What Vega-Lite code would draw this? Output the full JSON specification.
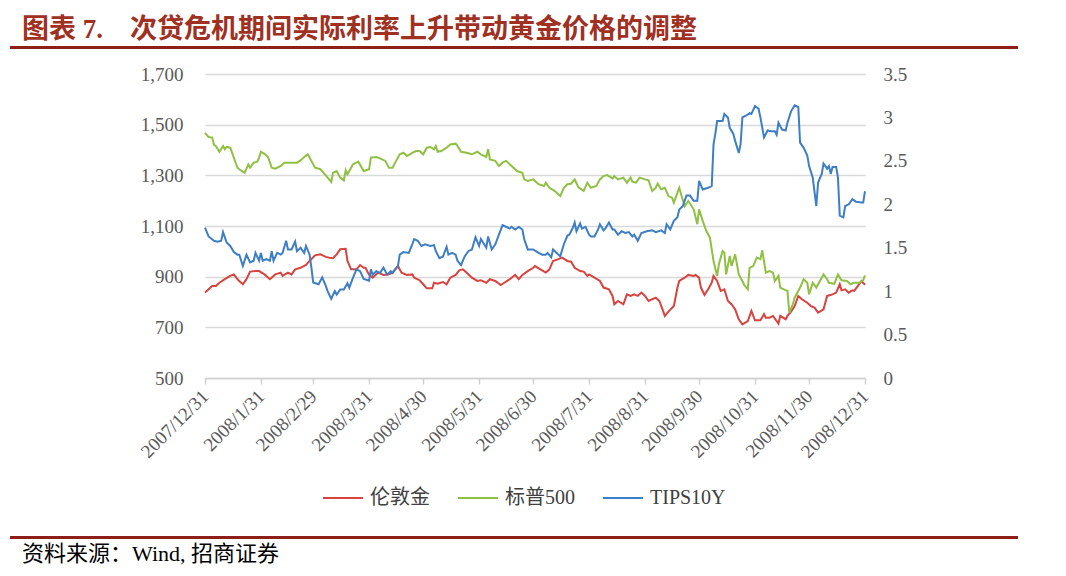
{
  "$schema": "https://vega.github.io/schema/vega-lite/v6.json",
  "background": "white",
  "padding": {"left": 10, "top": 16, "right": 10, "bottom": 8},
  "autosize": {"type": "pad"},
  "config": {
    "view": {"stroke": null},
    "axis": {"labelFont": "Liberation Serif", "labelFontSize": 19, "labelColor": "#595959"},
    "legend": {"labelFont": "Liberation Serif, Noto Sans CJK SC", "labelFontSize": 20, "labelColor": "#404040"}
  },
  "datasets": {
    "main": [
      {"d":"2007-12-31","s":"伦敦金","v":837},{"d":"2008-01-02","s":"伦敦金","v":850},{"d":"2008-01-04","s":"伦敦金","v":863},{"d":"2008-01-06","s":"伦敦金","v":863},{"d":"2008-01-08","s":"伦敦金","v":876},{"d":"2008-01-11","s":"伦敦金","v":890},{"d":"2008-01-14","s":"伦敦金","v":903},{"d":"2008-01-16","s":"伦敦金","v":909},{"d":"2008-01-18","s":"伦敦金","v":890},{"d":"2008-01-19","s":"伦敦金","v":883},{"d":"2008-01-21","s":"伦敦金","v":870},{"d":"2008-01-23","s":"伦敦金","v":890},{"d":"2008-01-25","s":"伦敦金","v":920},{"d":"2008-01-28","s":"伦敦金","v":922},{"d":"2008-01-30","s":"伦敦金","v":922},{"d":"2008-02-02","s":"伦敦金","v":909},{"d":"2008-02-05","s":"伦敦金","v":890},{"d":"2008-02-08","s":"伦敦金","v":909},{"d":"2008-02-11","s":"伦敦金","v":916},{"d":"2008-02-12","s":"伦敦金","v":903},{"d":"2008-02-15","s":"伦敦金","v":916},{"d":"2008-02-17","s":"伦敦金","v":909},{"d":"2008-02-19","s":"伦敦金","v":929},{"d":"2008-02-22","s":"伦敦金","v":935},{"d":"2008-02-25","s":"伦敦金","v":946},{"d":"2008-02-27","s":"伦敦金","v":962},{"d":"2008-03-01","s":"伦敦金","v":984},{"d":"2008-03-04","s":"伦敦金","v":988},{"d":"2008-03-07","s":"伦敦金","v":978},{"d":"2008-03-09","s":"伦敦金","v":975},{"d":"2008-03-11","s":"伦敦金","v":973},{"d":"2008-03-13","s":"伦敦金","v":988},{"d":"2008-03-15","s":"伦敦金","v":1008},{"d":"2008-03-18","s":"伦敦金","v":1010},{"d":"2008-03-19","s":"伦敦金","v":962},{"d":"2008-03-21","s":"伦敦金","v":929},{"d":"2008-03-24","s":"伦敦金","v":929},{"d":"2008-03-26","s":"伦敦金","v":946},{"d":"2008-03-28","s":"伦敦金","v":935},{"d":"2008-03-29","s":"伦敦金","v":935},{"d":"2008-03-31","s":"伦敦金","v":907},{"d":"2008-04-02","s":"伦敦金","v":896},{"d":"2008-04-05","s":"伦敦金","v":916},{"d":"2008-04-08","s":"伦敦金","v":907},{"d":"2008-04-11","s":"伦敦金","v":909},{"d":"2008-04-13","s":"伦敦金","v":916},{"d":"2008-04-16","s":"伦敦金","v":942},{"d":"2008-04-18","s":"伦敦金","v":916},{"d":"2008-04-21","s":"伦敦金","v":907},{"d":"2008-04-24","s":"伦敦金","v":909},{"d":"2008-04-25","s":"伦敦金","v":896},{"d":"2008-04-28","s":"伦敦金","v":886},{"d":"2008-04-30","s":"伦敦金","v":870},{"d":"2008-05-02","s":"伦敦金","v":854},{"d":"2008-05-05","s":"伦敦金","v":854},{"d":"2008-05-06","s":"伦敦金","v":876},{"d":"2008-05-08","s":"伦敦金","v":872},{"d":"2008-05-11","s":"伦敦金","v":879},{"d":"2008-05-13","s":"伦敦金","v":870},{"d":"2008-05-15","s":"伦敦金","v":896},{"d":"2008-05-18","s":"伦敦金","v":907},{"d":"2008-05-20","s":"伦敦金","v":925},{"d":"2008-05-22","s":"伦敦金","v":929},{"d":"2008-05-24","s":"伦敦金","v":916},{"d":"2008-05-27","s":"伦敦金","v":896},{"d":"2008-05-30","s":"伦敦金","v":883},{"d":"2008-06-01","s":"伦敦金","v":886},{"d":"2008-06-04","s":"伦敦金","v":876},{"d":"2008-06-06","s":"伦敦金","v":890},{"d":"2008-06-09","s":"伦敦金","v":883},{"d":"2008-06-12","s":"伦敦金","v":867},{"d":"2008-06-14","s":"伦敦金","v":876},{"d":"2008-06-17","s":"伦敦金","v":890},{"d":"2008-06-20","s":"伦敦金","v":907},{"d":"2008-06-22","s":"伦敦金","v":890},{"d":"2008-06-24","s":"伦敦金","v":907},{"d":"2008-06-27","s":"伦敦金","v":922},{"d":"2008-06-30","s":"伦敦金","v":935},{"d":"2008-07-01","s":"伦敦金","v":942},{"d":"2008-07-04","s":"伦敦金","v":929},{"d":"2008-07-07","s":"伦敦金","v":916},{"d":"2008-07-09","s":"伦敦金","v":929},{"d":"2008-07-11","s":"伦敦金","v":962},{"d":"2008-07-14","s":"伦敦金","v":969},{"d":"2008-07-16","s":"伦敦金","v":975},{"d":"2008-07-19","s":"伦敦金","v":962},{"d":"2008-07-21","s":"伦敦金","v":959},{"d":"2008-07-23","s":"伦敦金","v":935},{"d":"2008-07-26","s":"伦敦金","v":922},{"d":"2008-07-28","s":"伦敦金","v":920},{"d":"2008-07-30","s":"伦敦金","v":903},{"d":"2008-07-31","s":"伦敦金","v":909},{"d":"2008-08-03","s":"伦敦金","v":896},{"d":"2008-08-06","s":"伦敦金","v":883},{"d":"2008-08-08","s":"伦敦金","v":857},{"d":"2008-08-11","s":"伦敦金","v":850},{"d":"2008-08-13","s":"伦敦金","v":824},{"d":"2008-08-14","s":"伦敦金","v":791},{"d":"2008-08-16","s":"伦敦金","v":804},{"d":"2008-08-19","s":"伦敦金","v":791},{"d":"2008-08-21","s":"伦敦金","v":830},{"d":"2008-08-23","s":"伦敦金","v":824},{"d":"2008-08-25","s":"伦敦金","v":830},{"d":"2008-08-27","s":"伦敦金","v":824},{"d":"2008-08-29","s":"伦敦金","v":837},{"d":"2008-08-31","s":"伦敦金","v":824},{"d":"2008-09-02","s":"伦敦金","v":804},{"d":"2008-09-04","s":"伦敦金","v":811},{"d":"2008-09-06","s":"伦敦金","v":817},{"d":"2008-09-08","s":"伦敦金","v":804},{"d":"2008-09-10","s":"伦敦金","v":765},{"d":"2008-09-11","s":"伦敦金","v":745},{"d":"2008-09-13","s":"伦敦金","v":762},{"d":"2008-09-16","s":"伦敦金","v":784},{"d":"2008-09-18","s":"伦敦金","v":857},{"d":"2008-09-19","s":"伦敦金","v":883},{"d":"2008-09-22","s":"伦敦金","v":896},{"d":"2008-09-24","s":"伦敦金","v":907},{"d":"2008-09-27","s":"伦敦金","v":903},{"d":"2008-09-28","s":"伦敦金","v":907},{"d":"2008-09-30","s":"伦敦金","v":896},{"d":"2008-10-01","s":"伦敦金","v":857},{"d":"2008-10-03","s":"伦敦金","v":828},{"d":"2008-10-05","s":"伦敦金","v":850},{"d":"2008-10-07","s":"伦敦金","v":876},{"d":"2008-10-08","s":"伦敦金","v":903},{"d":"2008-10-10","s":"伦敦金","v":883},{"d":"2008-10-12","s":"伦敦金","v":844},{"d":"2008-10-14","s":"伦敦金","v":850},{"d":"2008-10-16","s":"伦敦金","v":804},{"d":"2008-10-18","s":"伦敦金","v":791},{"d":"2008-10-20","s":"伦敦金","v":771},{"d":"2008-10-22","s":"伦敦金","v":732},{"d":"2008-10-24","s":"伦敦金","v":712},{"d":"2008-10-27","s":"伦敦金","v":725},{"d":"2008-10-29","s":"伦敦金","v":765},{"d":"2008-10-31","s":"伦敦金","v":728},{"d":"2008-11-03","s":"伦敦金","v":728},{"d":"2008-11-05","s":"伦敦金","v":752},{"d":"2008-11-06","s":"伦敦金","v":738},{"d":"2008-11-08","s":"伦敦金","v":738},{"d":"2008-11-10","s":"伦敦金","v":745},{"d":"2008-11-13","s":"伦敦金","v":715},{"d":"2008-11-14","s":"伦敦金","v":745},{"d":"2008-11-17","s":"伦敦金","v":732},{"d":"2008-11-18","s":"伦敦金","v":745},{"d":"2008-11-20","s":"伦敦金","v":762},{"d":"2008-11-22","s":"伦敦金","v":784},{"d":"2008-11-24","s":"伦敦金","v":824},{"d":"2008-11-26","s":"伦敦金","v":811},{"d":"2008-11-29","s":"伦敦金","v":797},{"d":"2008-12-01","s":"伦敦金","v":784},{"d":"2008-12-03","s":"伦敦金","v":778},{"d":"2008-12-05","s":"伦敦金","v":758},{"d":"2008-12-08","s":"伦敦金","v":771},{"d":"2008-12-10","s":"伦敦金","v":824},{"d":"2008-12-13","s":"伦敦金","v":830},{"d":"2008-12-15","s":"伦敦金","v":837},{"d":"2008-12-17","s":"伦敦金","v":870},{"d":"2008-12-18","s":"伦敦金","v":846},{"d":"2008-12-20","s":"伦敦金","v":850},{"d":"2008-12-22","s":"伦敦金","v":837},{"d":"2008-12-24","s":"伦敦金","v":846},{"d":"2008-12-25","s":"伦敦金","v":844},{"d":"2008-12-27","s":"伦敦金","v":863},{"d":"2008-12-29","s":"伦敦金","v":883},{"d":"2008-12-31","s":"伦敦金","v":868},
      {"d":"2007-12-31","s":"标普500","v":1468},{"d":"2008-01-02","s":"标普500","v":1451},{"d":"2008-01-04","s":"标普500","v":1449},{"d":"2008-01-05","s":"标普500","v":1420},{"d":"2008-01-06","s":"标普500","v":1416},{"d":"2008-01-08","s":"标普500","v":1393},{"d":"2008-01-10","s":"标普500","v":1416},{"d":"2008-01-11","s":"标普500","v":1403},{"d":"2008-01-12","s":"标普500","v":1412},{"d":"2008-01-14","s":"标普500","v":1409},{"d":"2008-01-18","s":"标普500","v":1330},{"d":"2008-01-19","s":"标普500","v":1324},{"d":"2008-01-22","s":"标普500","v":1310},{"d":"2008-01-24","s":"标普500","v":1343},{"d":"2008-01-25","s":"标普500","v":1330},{"d":"2008-01-27","s":"标普500","v":1350},{"d":"2008-01-29","s":"标普500","v":1354},{"d":"2008-01-30","s":"标普500","v":1370},{"d":"2008-01-31","s":"标普500","v":1393},{"d":"2008-02-02","s":"标普500","v":1385},{"d":"2008-02-04","s":"标普500","v":1372},{"d":"2008-02-06","s":"标普500","v":1330},{"d":"2008-02-08","s":"标普500","v":1326},{"d":"2008-02-11","s":"标普500","v":1337},{"d":"2008-02-13","s":"标普500","v":1350},{"d":"2008-02-16","s":"标普500","v":1350},{"d":"2008-02-20","s":"标普500","v":1350},{"d":"2008-02-22","s":"标普500","v":1359},{"d":"2008-02-24","s":"标普500","v":1372},{"d":"2008-02-26","s":"标普500","v":1383},{"d":"2008-02-28","s":"标普500","v":1357},{"d":"2008-03-01","s":"标普500","v":1330},{"d":"2008-03-04","s":"标普500","v":1324},{"d":"2008-03-07","s":"标普500","v":1300},{"d":"2008-03-10","s":"标普500","v":1274},{"d":"2008-03-11","s":"标普500","v":1310},{"d":"2008-03-13","s":"标普500","v":1317},{"d":"2008-03-15","s":"标普500","v":1291},{"d":"2008-03-17","s":"标普500","v":1280},{"d":"2008-03-18","s":"标普500","v":1320},{"d":"2008-03-19","s":"标普500","v":1304},{"d":"2008-03-22","s":"标普500","v":1343},{"d":"2008-03-25","s":"标普500","v":1354},{"d":"2008-03-28","s":"标普500","v":1317},{"d":"2008-03-31","s":"标普500","v":1324},{"d":"2008-04-01","s":"标普500","v":1370},{"d":"2008-04-04","s":"标普500","v":1372},{"d":"2008-04-06","s":"标普500","v":1367},{"d":"2008-04-09","s":"标普500","v":1357},{"d":"2008-04-11","s":"标普500","v":1330},{"d":"2008-04-13","s":"标普500","v":1330},{"d":"2008-04-15","s":"标普500","v":1357},{"d":"2008-04-17","s":"标普500","v":1383},{"d":"2008-04-19","s":"标普500","v":1389},{"d":"2008-04-21","s":"标普500","v":1376},{"d":"2008-04-24","s":"标普500","v":1389},{"d":"2008-04-26","s":"标普500","v":1396},{"d":"2008-04-28","s":"标普500","v":1396},{"d":"2008-04-30","s":"标普500","v":1383},{"d":"2008-05-02","s":"标普500","v":1409},{"d":"2008-05-04","s":"标普500","v":1412},{"d":"2008-05-06","s":"标普500","v":1403},{"d":"2008-05-07","s":"标普500","v":1416},{"d":"2008-05-08","s":"标普500","v":1393},{"d":"2008-05-10","s":"标普500","v":1396},{"d":"2008-05-13","s":"标普500","v":1409},{"d":"2008-05-15","s":"标普500","v":1422},{"d":"2008-05-18","s":"标普500","v":1425},{"d":"2008-05-19","s":"标普500","v":1416},{"d":"2008-05-21","s":"标普500","v":1393},{"d":"2008-05-24","s":"标普500","v":1389},{"d":"2008-05-27","s":"标普500","v":1383},{"d":"2008-05-30","s":"标普500","v":1393},{"d":"2008-06-01","s":"标普500","v":1383},{"d":"2008-06-04","s":"标普500","v":1372},{"d":"2008-06-05","s":"标普500","v":1403},{"d":"2008-06-06","s":"标普500","v":1363},{"d":"2008-06-09","s":"标普500","v":1357},{"d":"2008-06-11","s":"标普500","v":1337},{"d":"2008-06-13","s":"标普500","v":1350},{"d":"2008-06-15","s":"标普500","v":1357},{"d":"2008-06-18","s":"标普500","v":1337},{"d":"2008-06-21","s":"标普500","v":1317},{"d":"2008-06-24","s":"标普500","v":1310},{"d":"2008-06-25","s":"标普500","v":1284},{"d":"2008-06-27","s":"标普500","v":1278},{"d":"2008-06-30","s":"标普500","v":1284},{"d":"2008-07-03","s":"标普500","v":1265},{"d":"2008-07-06","s":"标普500","v":1258},{"d":"2008-07-07","s":"标普500","v":1271},{"d":"2008-07-09","s":"标普500","v":1251},{"d":"2008-07-12","s":"标普500","v":1238},{"d":"2008-07-15","s":"标普500","v":1218},{"d":"2008-07-17","s":"标普500","v":1251},{"d":"2008-07-19","s":"标普500","v":1265},{"d":"2008-07-21","s":"标普500","v":1267},{"d":"2008-07-23","s":"标普500","v":1284},{"d":"2008-07-25","s":"标普500","v":1254},{"d":"2008-07-28","s":"标普500","v":1238},{"d":"2008-07-30","s":"标普500","v":1271},{"d":"2008-08-01","s":"标普500","v":1251},{"d":"2008-08-04","s":"标普500","v":1258},{"d":"2008-08-06","s":"标普500","v":1284},{"d":"2008-08-08","s":"标普500","v":1297},{"d":"2008-08-10","s":"标普500","v":1301},{"d":"2008-08-13","s":"标普500","v":1288},{"d":"2008-08-14","s":"标普500","v":1297},{"d":"2008-08-16","s":"标普500","v":1284},{"d":"2008-08-19","s":"标普500","v":1291},{"d":"2008-08-21","s":"标普500","v":1271},{"d":"2008-08-23","s":"标普500","v":1291},{"d":"2008-08-24","s":"标普500","v":1275},{"d":"2008-08-26","s":"标普500","v":1271},{"d":"2008-08-28","s":"标普500","v":1291},{"d":"2008-08-31","s":"标普500","v":1284},{"d":"2008-09-02","s":"标普500","v":1280},{"d":"2008-09-04","s":"标普500","v":1238},{"d":"2008-09-06","s":"标普500","v":1251},{"d":"2008-09-07","s":"标普500","v":1267},{"d":"2008-09-09","s":"标普500","v":1245},{"d":"2008-09-11","s":"标普500","v":1251},{"d":"2008-09-13","s":"标普500","v":1218},{"d":"2008-09-15","s":"标普500","v":1212},{"d":"2008-09-16","s":"标普500","v":1192},{"d":"2008-09-18","s":"标普500","v":1232},{"d":"2008-09-19","s":"标普500","v":1251},{"d":"2008-09-20","s":"标普500","v":1225},{"d":"2008-09-22","s":"标普500","v":1179},{"d":"2008-09-24","s":"标普500","v":1199},{"d":"2008-09-27","s":"标普500","v":1166},{"d":"2008-09-29","s":"标普500","v":1107},{"d":"2008-09-30","s":"标普500","v":1166},{"d":"2008-10-02","s":"标普500","v":1120},{"d":"2008-10-04","s":"标普500","v":1080},{"d":"2008-10-06","s":"标普500","v":1054},{"d":"2008-10-08","s":"标普500","v":962},{"d":"2008-10-10","s":"标普500","v":903},{"d":"2008-10-11","s":"标普500","v":949},{"d":"2008-10-13","s":"标普500","v":1001},{"d":"2008-10-14","s":"标普500","v":995},{"d":"2008-10-15","s":"标普500","v":909},{"d":"2008-10-17","s":"标普500","v":982},{"d":"2008-10-18","s":"标普500","v":942},{"d":"2008-10-20","s":"标普500","v":988},{"d":"2008-10-22","s":"标普500","v":909},{"d":"2008-10-24","s":"标普500","v":883},{"d":"2008-10-25","s":"标普500","v":867},{"d":"2008-10-27","s":"标普500","v":850},{"d":"2008-10-28","s":"标普500","v":935},{"d":"2008-10-30","s":"标普500","v":942},{"d":"2008-11-01","s":"标普500","v":975},{"d":"2008-11-03","s":"标普500","v":969},{"d":"2008-11-04","s":"标普500","v":1004},{"d":"2008-11-06","s":"标普500","v":916},{"d":"2008-11-08","s":"标普500","v":922},{"d":"2008-11-10","s":"标普500","v":916},{"d":"2008-11-11","s":"标普500","v":883},{"d":"2008-11-13","s":"标普500","v":903},{"d":"2008-11-14","s":"标普500","v":857},{"d":"2008-11-16","s":"标普500","v":850},{"d":"2008-11-18","s":"标普500","v":844},{"d":"2008-11-19","s":"标普500","v":758},{"d":"2008-11-21","s":"标普500","v":791},{"d":"2008-11-22","s":"标普500","v":817},{"d":"2008-11-25","s":"标普500","v":857},{"d":"2008-11-27","s":"标普500","v":890},{"d":"2008-11-29","s":"标普500","v":876},{"d":"2008-11-30","s":"标普500","v":830},{"d":"2008-12-02","s":"标普500","v":876},{"d":"2008-12-04","s":"标普500","v":857},{"d":"2008-12-06","s":"标普500","v":883},{"d":"2008-12-08","s":"标普500","v":909},{"d":"2008-12-10","s":"标普500","v":890},{"d":"2008-12-11","s":"标普500","v":876},{"d":"2008-12-14","s":"标普500","v":872},{"d":"2008-12-16","s":"标普500","v":909},{"d":"2008-12-18","s":"标普500","v":886},{"d":"2008-12-21","s":"标普500","v":883},{"d":"2008-12-23","s":"标普500","v":870},{"d":"2008-12-25","s":"标普500","v":876},{"d":"2008-12-28","s":"标普500","v":876},{"d":"2008-12-30","s":"标普500","v":886},{"d":"2008-12-31","s":"标普500","v":905},
      {"d":"2007-12-31","s":"TIPS10Y","v":1.73},{"d":"2008-01-02","s":"TIPS10Y","v":1.63},{"d":"2008-01-05","s":"TIPS10Y","v":1.58},{"d":"2008-01-07","s":"TIPS10Y","v":1.57},{"d":"2008-01-09","s":"TIPS10Y","v":1.58},{"d":"2008-01-10","s":"TIPS10Y","v":1.68},{"d":"2008-01-12","s":"TIPS10Y","v":1.56},{"d":"2008-01-14","s":"TIPS10Y","v":1.52},{"d":"2008-01-16","s":"TIPS10Y","v":1.45},{"d":"2008-01-18","s":"TIPS10Y","v":1.42},{"d":"2008-01-19","s":"TIPS10Y","v":1.42},{"d":"2008-01-21","s":"TIPS10Y","v":1.29},{"d":"2008-01-23","s":"TIPS10Y","v":1.42},{"d":"2008-01-25","s":"TIPS10Y","v":1.33},{"d":"2008-01-27","s":"TIPS10Y","v":1.35},{"d":"2008-01-28","s":"TIPS10Y","v":1.44},{"d":"2008-01-30","s":"TIPS10Y","v":1.35},{"d":"2008-01-31","s":"TIPS10Y","v":1.44},{"d":"2008-02-01","s":"TIPS10Y","v":1.35},{"d":"2008-02-03","s":"TIPS10Y","v":1.37},{"d":"2008-02-05","s":"TIPS10Y","v":1.35},{"d":"2008-02-06","s":"TIPS10Y","v":1.46},{"d":"2008-02-07","s":"TIPS10Y","v":1.35},{"d":"2008-02-09","s":"TIPS10Y","v":1.44},{"d":"2008-02-11","s":"TIPS10Y","v":1.42},{"d":"2008-02-12","s":"TIPS10Y","v":1.44},{"d":"2008-02-14","s":"TIPS10Y","v":1.58},{"d":"2008-02-15","s":"TIPS10Y","v":1.48},{"d":"2008-02-17","s":"TIPS10Y","v":1.48},{"d":"2008-02-19","s":"TIPS10Y","v":1.57},{"d":"2008-02-20","s":"TIPS10Y","v":1.46},{"d":"2008-02-22","s":"TIPS10Y","v":1.5},{"d":"2008-02-24","s":"TIPS10Y","v":1.44},{"d":"2008-02-25","s":"TIPS10Y","v":1.52},{"d":"2008-02-27","s":"TIPS10Y","v":1.42},{"d":"2008-02-28","s":"TIPS10Y","v":1.27},{"d":"2008-02-29","s":"TIPS10Y","v":1.1},{"d":"2008-03-03","s":"TIPS10Y","v":1.08},{"d":"2008-03-05","s":"TIPS10Y","v":1.16},{"d":"2008-03-07","s":"TIPS10Y","v":1.06},{"d":"2008-03-08","s":"TIPS10Y","v":1.0},{"d":"2008-03-10","s":"TIPS10Y","v":0.91},{"d":"2008-03-12","s":"TIPS10Y","v":1.0},{"d":"2008-03-13","s":"TIPS10Y","v":0.96},{"d":"2008-03-15","s":"TIPS10Y","v":1.02},{"d":"2008-03-17","s":"TIPS10Y","v":1.02},{"d":"2008-03-19","s":"TIPS10Y","v":1.09},{"d":"2008-03-20","s":"TIPS10Y","v":1.04},{"d":"2008-03-22","s":"TIPS10Y","v":1.15},{"d":"2008-03-24","s":"TIPS10Y","v":1.25},{"d":"2008-03-26","s":"TIPS10Y","v":1.23},{"d":"2008-03-28","s":"TIPS10Y","v":1.14},{"d":"2008-03-31","s":"TIPS10Y","v":1.12},{"d":"2008-04-01","s":"TIPS10Y","v":1.25},{"d":"2008-04-02","s":"TIPS10Y","v":1.19},{"d":"2008-04-04","s":"TIPS10Y","v":1.23},{"d":"2008-04-06","s":"TIPS10Y","v":1.21},{"d":"2008-04-08","s":"TIPS10Y","v":1.27},{"d":"2008-04-10","s":"TIPS10Y","v":1.19},{"d":"2008-04-12","s":"TIPS10Y","v":1.23},{"d":"2008-04-13","s":"TIPS10Y","v":1.21},{"d":"2008-04-16","s":"TIPS10Y","v":1.29},{"d":"2008-04-17","s":"TIPS10Y","v":1.42},{"d":"2008-04-19","s":"TIPS10Y","v":1.45},{"d":"2008-04-22","s":"TIPS10Y","v":1.44},{"d":"2008-04-24","s":"TIPS10Y","v":1.54},{"d":"2008-04-25","s":"TIPS10Y","v":1.6},{"d":"2008-04-27","s":"TIPS10Y","v":1.58},{"d":"2008-04-29","s":"TIPS10Y","v":1.52},{"d":"2008-05-01","s":"TIPS10Y","v":1.54},{"d":"2008-05-04","s":"TIPS10Y","v":1.52},{"d":"2008-05-06","s":"TIPS10Y","v":1.53},{"d":"2008-05-07","s":"TIPS10Y","v":1.46},{"d":"2008-05-09","s":"TIPS10Y","v":1.38},{"d":"2008-05-11","s":"TIPS10Y","v":1.4},{"d":"2008-05-13","s":"TIPS10Y","v":1.51},{"d":"2008-05-14","s":"TIPS10Y","v":1.42},{"d":"2008-05-16","s":"TIPS10Y","v":1.44},{"d":"2008-05-18","s":"TIPS10Y","v":1.42},{"d":"2008-05-19","s":"TIPS10Y","v":1.35},{"d":"2008-05-21","s":"TIPS10Y","v":1.3},{"d":"2008-05-23","s":"TIPS10Y","v":1.4},{"d":"2008-05-25","s":"TIPS10Y","v":1.46},{"d":"2008-05-27","s":"TIPS10Y","v":1.48},{"d":"2008-05-29","s":"TIPS10Y","v":1.62},{"d":"2008-05-31","s":"TIPS10Y","v":1.52},{"d":"2008-06-01","s":"TIPS10Y","v":1.6},{"d":"2008-06-04","s":"TIPS10Y","v":1.5},{"d":"2008-06-05","s":"TIPS10Y","v":1.63},{"d":"2008-06-07","s":"TIPS10Y","v":1.48},{"d":"2008-06-09","s":"TIPS10Y","v":1.54},{"d":"2008-06-11","s":"TIPS10Y","v":1.65},{"d":"2008-06-13","s":"TIPS10Y","v":1.76},{"d":"2008-06-14","s":"TIPS10Y","v":1.75},{"d":"2008-06-17","s":"TIPS10Y","v":1.72},{"d":"2008-06-18","s":"TIPS10Y","v":1.74},{"d":"2008-06-20","s":"TIPS10Y","v":1.71},{"d":"2008-06-22","s":"TIPS10Y","v":1.74},{"d":"2008-06-24","s":"TIPS10Y","v":1.71},{"d":"2008-06-25","s":"TIPS10Y","v":1.6},{"d":"2008-06-27","s":"TIPS10Y","v":1.48},{"d":"2008-06-30","s":"TIPS10Y","v":1.48},{"d":"2008-07-03","s":"TIPS10Y","v":1.44},{"d":"2008-07-05","s":"TIPS10Y","v":1.42},{"d":"2008-07-07","s":"TIPS10Y","v":1.42},{"d":"2008-07-08","s":"TIPS10Y","v":1.44},{"d":"2008-07-10","s":"TIPS10Y","v":1.39},{"d":"2008-07-11","s":"TIPS10Y","v":1.48},{"d":"2008-07-13","s":"TIPS10Y","v":1.44},{"d":"2008-07-15","s":"TIPS10Y","v":1.4},{"d":"2008-07-17","s":"TIPS10Y","v":1.54},{"d":"2008-07-19","s":"TIPS10Y","v":1.64},{"d":"2008-07-20","s":"TIPS10Y","v":1.65},{"d":"2008-07-22","s":"TIPS10Y","v":1.73},{"d":"2008-07-23","s":"TIPS10Y","v":1.79},{"d":"2008-07-24","s":"TIPS10Y","v":1.69},{"d":"2008-07-26","s":"TIPS10Y","v":1.78},{"d":"2008-07-27","s":"TIPS10Y","v":1.72},{"d":"2008-07-29","s":"TIPS10Y","v":1.74},{"d":"2008-07-31","s":"TIPS10Y","v":1.65},{"d":"2008-08-01","s":"TIPS10Y","v":1.63},{"d":"2008-08-03","s":"TIPS10Y","v":1.63},{"d":"2008-08-05","s":"TIPS10Y","v":1.71},{"d":"2008-08-06","s":"TIPS10Y","v":1.77},{"d":"2008-08-08","s":"TIPS10Y","v":1.7},{"d":"2008-08-09","s":"TIPS10Y","v":1.72},{"d":"2008-08-11","s":"TIPS10Y","v":1.79},{"d":"2008-08-13","s":"TIPS10Y","v":1.71},{"d":"2008-08-14","s":"TIPS10Y","v":1.71},{"d":"2008-08-16","s":"TIPS10Y","v":1.65},{"d":"2008-08-18","s":"TIPS10Y","v":1.69},{"d":"2008-08-20","s":"TIPS10Y","v":1.67},{"d":"2008-08-22","s":"TIPS10Y","v":1.68},{"d":"2008-08-24","s":"TIPS10Y","v":1.63},{"d":"2008-08-25","s":"TIPS10Y","v":1.65},{"d":"2008-08-27","s":"TIPS10Y","v":1.58},{"d":"2008-08-29","s":"TIPS10Y","v":1.67},{"d":"2008-09-01","s":"TIPS10Y","v":1.69},{"d":"2008-09-04","s":"TIPS10Y","v":1.7},{"d":"2008-09-06","s":"TIPS10Y","v":1.68},{"d":"2008-09-09","s":"TIPS10Y","v":1.7},{"d":"2008-09-11","s":"TIPS10Y","v":1.67},{"d":"2008-09-12","s":"TIPS10Y","v":1.77},{"d":"2008-09-14","s":"TIPS10Y","v":1.71},{"d":"2008-09-16","s":"TIPS10Y","v":1.81},{"d":"2008-09-18","s":"TIPS10Y","v":1.85},{"d":"2008-09-19","s":"TIPS10Y","v":1.94},{"d":"2008-09-21","s":"TIPS10Y","v":1.98},{"d":"2008-09-23","s":"TIPS10Y","v":2.1},{"d":"2008-09-25","s":"TIPS10Y","v":2.1},{"d":"2008-09-27","s":"TIPS10Y","v":2.04},{"d":"2008-09-29","s":"TIPS10Y","v":2.04},{"d":"2008-09-30","s":"TIPS10Y","v":2.27},{"d":"2008-10-02","s":"TIPS10Y","v":2.17},{"d":"2008-10-05","s":"TIPS10Y","v":2.19},{"d":"2008-10-07","s":"TIPS10Y","v":2.21},{"d":"2008-10-08","s":"TIPS10Y","v":2.69},{"d":"2008-10-09","s":"TIPS10Y","v":2.81},{"d":"2008-10-10","s":"TIPS10Y","v":2.96},{"d":"2008-10-13","s":"TIPS10Y","v":2.96},{"d":"2008-10-14","s":"TIPS10Y","v":3.04},{"d":"2008-10-16","s":"TIPS10Y","v":3.0},{"d":"2008-10-17","s":"TIPS10Y","v":2.88},{"d":"2008-10-19","s":"TIPS10Y","v":2.81},{"d":"2008-10-20","s":"TIPS10Y","v":2.73},{"d":"2008-10-22","s":"TIPS10Y","v":2.59},{"d":"2008-10-23","s":"TIPS10Y","v":2.69},{"d":"2008-10-24","s":"TIPS10Y","v":3.0},{"d":"2008-10-26","s":"TIPS10Y","v":3.02},{"d":"2008-10-28","s":"TIPS10Y","v":3.05},{"d":"2008-10-29","s":"TIPS10Y","v":3.04},{"d":"2008-10-31","s":"TIPS10Y","v":3.13},{"d":"2008-11-02","s":"TIPS10Y","v":3.1},{"d":"2008-11-03","s":"TIPS10Y","v":3.0},{"d":"2008-11-05","s":"TIPS10Y","v":2.77},{"d":"2008-11-07","s":"TIPS10Y","v":2.85},{"d":"2008-11-09","s":"TIPS10Y","v":2.84},{"d":"2008-11-11","s":"TIPS10Y","v":2.84},{"d":"2008-11-12","s":"TIPS10Y","v":2.8},{"d":"2008-11-13","s":"TIPS10Y","v":2.94},{"d":"2008-11-15","s":"TIPS10Y","v":2.86},{"d":"2008-11-17","s":"TIPS10Y","v":2.85},{"d":"2008-11-18","s":"TIPS10Y","v":2.94},{"d":"2008-11-20","s":"TIPS10Y","v":3.07},{"d":"2008-11-22","s":"TIPS10Y","v":3.14},{"d":"2008-11-24","s":"TIPS10Y","v":3.12},{"d":"2008-11-25","s":"TIPS10Y","v":2.71},{"d":"2008-11-27","s":"TIPS10Y","v":2.65},{"d":"2008-11-29","s":"TIPS10Y","v":2.56},{"d":"2008-11-30","s":"TIPS10Y","v":2.44},{"d":"2008-12-02","s":"TIPS10Y","v":2.31},{"d":"2008-12-04","s":"TIPS10Y","v":1.98},{"d":"2008-12-05","s":"TIPS10Y","v":2.25},{"d":"2008-12-07","s":"TIPS10Y","v":2.35},{"d":"2008-12-08","s":"TIPS10Y","v":2.47},{"d":"2008-12-10","s":"TIPS10Y","v":2.41},{"d":"2008-12-11","s":"TIPS10Y","v":2.44},{"d":"2008-12-12","s":"TIPS10Y","v":2.35},{"d":"2008-12-13","s":"TIPS10Y","v":2.43},{"d":"2008-12-15","s":"TIPS10Y","v":2.43},{"d":"2008-12-16","s":"TIPS10Y","v":2.31},{"d":"2008-12-17","s":"TIPS10Y","v":1.87},{"d":"2008-12-19","s":"TIPS10Y","v":1.85},{"d":"2008-12-20","s":"TIPS10Y","v":1.98},{"d":"2008-12-22","s":"TIPS10Y","v":2.0},{"d":"2008-12-24","s":"TIPS10Y","v":2.06},{"d":"2008-12-26","s":"TIPS10Y","v":2.03},{"d":"2008-12-29","s":"TIPS10Y","v":2.02},{"d":"2008-12-30","s":"TIPS10Y","v":2.02},{"d":"2008-12-31","s":"TIPS10Y","v":2.15}
    ]
  },
  "spacing": 25,
  "bounds": "flush",
  "resolve": {"scale": {"color": "independent"}, "legend": {"color": "independent"}},
  "vconcat": [
    {
      "width": 1008,
      "height": 3,
      "data": {"values": []},
      "mark": "rule",
      "encoding": {},
      "view": {"fill": "#8E1F18", "stroke": null},
      "title": {
        "text": "图表 7.\u2003次贷危机期间实际利率上升带动黄金价格的调整",
        "anchor": "start",
        "dx": 12,
        "offset": 2,
        "font": "Liberation Serif, Noto Sans CJK SC",
        "fontSize": 27,
        "fontWeight": "bold",
        "color": "#A0301F"
      }
    },
    {
      "spacing": 462,
      "bounds": "flush",
      "resolve": {"scale": {"color": "independent"}, "legend": {"color": "independent"}},
      "vconcat": [
        {
          "spacing": 0,
          "bounds": "flush",
          "resolve": {"scale": {"color": "independent"}, "legend": {"color": "independent"}},
          "hconcat": [
            {
              "width": 195,
              "height": 304,
              "data": {"values": []},
              "mark": "rule",
              "encoding": {}
            },
            {
              "width": 660,
              "height": 304,
              "data": {"name": "main"},
              "encoding": {
                "x": {
                  "field": "d",
                  "type": "temporal",
                  "scale": {"type": "utc", "domain": [{"year": 2007, "month": 12, "date": 31, "utc": true}, {"year": 2008, "month": 12, "date": 31, "utc": true}]},
                  "axis": {
                    "title": null,
                    "grid": false,
                    "values": [
                      {"year": 2007, "month": 12, "date": 31, "utc": true},
                      {"year": 2008, "month": 1, "date": 31, "utc": true},
                      {"year": 2008, "month": 2, "date": 29, "utc": true},
                      {"year": 2008, "month": 3, "date": 31, "utc": true},
                      {"year": 2008, "month": 4, "date": 30, "utc": true},
                      {"year": 2008, "month": 5, "date": 31, "utc": true},
                      {"year": 2008, "month": 6, "date": 30, "utc": true},
                      {"year": 2008, "month": 7, "date": 31, "utc": true},
                      {"year": 2008, "month": 8, "date": 31, "utc": true},
                      {"year": 2008, "month": 9, "date": 30, "utc": true},
                      {"year": 2008, "month": 10, "date": 31, "utc": true},
                      {"year": 2008, "month": 11, "date": 30, "utc": true},
                      {"year": 2008, "month": 12, "date": 31, "utc": true}
                    ],
                    "labelExpr": "utcFormat(datum.value, '%Y/%-m/%-d')",
                    "labelAngle": -45,
                    "labelAlign": "right",
                    "labelBaseline": "middle",
                    "labelPadding": 9,
                    "labelOverlap": false,
                    "labelFlush": false,
                    "labelBound": false,
                    "domainColor": "#D0D0D0",
                    "domainWidth": 1.5,
                    "tickColor": "#D0D0D0",
                    "tickWidth": 1.5,
                    "tickSize": 6
                  }
                }
              },
              "layer": [
                {
                  "transform": [{"filter": "datum.s !== 'TIPS10Y'"}],
                  "mark": {"type": "line", "strokeWidth": 2},
                  "encoding": {
                    "y": {
                      "field": "v",
                      "type": "quantitative",
                      "scale": {"domain": [500, 1700], "nice": false, "zero": false},
                      "axis": {
                        "title": null,
                        "values": [500, 700, 900, 1100, 1300, 1500, 1700],
                        "labelExpr": "format(datum.value, ',')",
                        "grid": true,
                        "gridColor": "#D9D9D9",
                        "gridWidth": 1.5,
                        "domain": false,
                        "ticks": false,
                        "labelPadding": 22
                      }
                    },
                    "color": {
                      "field": "s",
                      "type": "nominal",
                      "scale": {"domain": ["伦敦金", "标普500", "TIPS10Y"], "range": ["#D8423F", "#8FC043", "#3D7EC4"]},
                      "legend": {
                        "title": null,
                        "orient": "none",
                        "legendX": 117,
                        "legendY": 403,
                        "direction": "horizontal",
                        "symbolType": "stroke",
                        "symbolSize": 1600,
                        "symbolStrokeWidth": 2,
                        "columnPadding": 24,
                        "labelOffset": 6
                      }
                    }
                  }
                },
                {
                  "transform": [{"filter": "datum.s === 'TIPS10Y'"}],
                  "mark": {"type": "line", "strokeWidth": 2},
                  "encoding": {
                    "y": {
                      "field": "v",
                      "type": "quantitative",
                      "scale": {"domain": [0, 3.5], "nice": false},
                      "axis": {
                        "title": null,
                        "orient": "right",
                        "values": [0, 0.5, 1, 1.5, 2, 2.5, 3, 3.5],
                        "labelExpr": "format(datum.value, '~g')",
                        "grid": false,
                        "domain": false,
                        "ticks": false,
                        "labelPadding": 18
                      }
                    },
                    "color": {"field": "s", "type": "nominal"}
                  }
                }
              ],
              "resolve": {"scale": {"y": "independent"}}
            }
          ]
        },
        {
          "width": 1008,
          "height": 3,
          "data": {"values": []},
          "mark": "rule",
          "encoding": {},
          "view": {"fill": "#8E1F18", "stroke": null},
          "title": {
            "text": "资料来源：Wind, 招商证券",
            "orient": "bottom",
            "anchor": "start",
            "dx": 12,
            "offset": 5,
            "font": "Liberation Serif, Noto Sans CJK SC",
            "fontSize": 22,
            "fontWeight": "normal",
            "color": "#000000"
          }
        }
      ]
    }
  ]
}
